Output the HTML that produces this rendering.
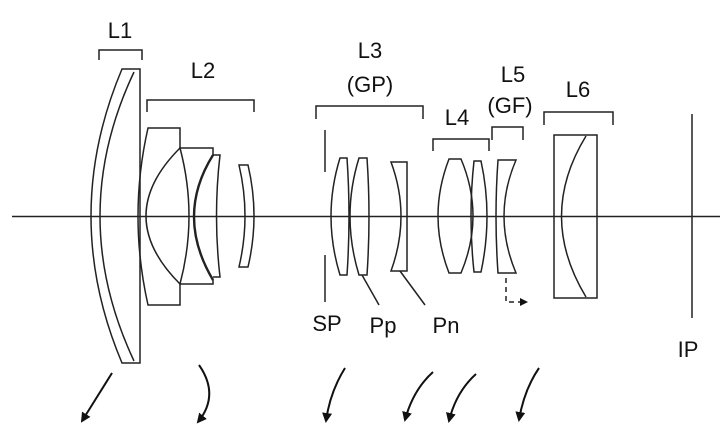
<!DOCTYPE html>
<html><head><meta charset="utf-8"><style>
html,body{margin:0;padding:0;background:#fff;width:728px;height:439px;overflow:hidden}
text{font-family:"Liberation Sans",sans-serif;font-size:22px;fill:#111}
</style></head><body>
<svg width="728" height="439" viewBox="0 0 728 439" xmlns="http://www.w3.org/2000/svg">
<defs><marker id="ah" markerWidth="10" markerHeight="10" refX="8" refY="5" orient="auto" markerUnits="userSpaceOnUse"><path d="M0,0 L10,5 L0,10 z" fill="#111"/></marker></defs>
<g fill="none" stroke="#222" stroke-width="1.5">
<line x1="12" y1="216.5" x2="720" y2="216.5"/>
<path d="M99,60 V50 H142 V60"/>
<path d="M147,112 V100 H254 V112"/>
<path d="M316,119 V106 H423 V119"/>
<path d="M433,151 V139 H489 V151"/>
<path d="M492,140 V127 H523 V140"/>
<path d="M544,125 V112 H613 V125"/>
<path d="M122,69 Q60,216 122,363 H140 V69 Z"/>
<path d="M134,72 Q66,216 134,361"/>
<path d="M148,128 H180 V148 Q112,216 180,284 V305 H148 Q128,216 148,128 Z"/>
<path d="M180,148 Q198,216 180,284 H213 V280 Q175,216 213,155 V148 Z"/>
<path stroke-width="2.4" d="M213,155 Q175,216 213,280"/>
<path d="M213,155 H220 Q213,216 220,277 H213"/>
<path d="M239,165 H248 Q260,216 248,267 H239 Q251,216 239,165 Z"/>
<line x1="325" y1="130" x2="325" y2="172"/>
<line x1="325" y1="255" x2="325" y2="302"/>
<path d="M340,158 H347 Q351,216 347,275 H340 Q322,216 340,158 Z"/>
<path d="M359,158 H367 Q371,216 367,275 H359 Q341,216 359,158 Z"/>
<path d="M391,162 H407 V271 H391 Q411,216 391,162 Z"/>
<line x1="362" y1="275" x2="379" y2="305"/>
<line x1="400" y1="271" x2="425" y2="305"/>
<path d="M449,159 H461 Q485,216 461,273 H449 Q427,216 449,159 Z"/>
<path d="M474,161 H481 Q493,216 481,272 H474 Q468,216 474,161 Z"/>
<path d="M498,160 H516 Q492,216 516,273 H498 Q494,216 498,160 Z"/>
<path stroke-dasharray="5,4" d="M506,278 V302 H520"/>
<path d="M520,298 L528,302 L520,306 Z" fill="#111" stroke="none"/>
<rect x="554" y="135" width="43" height="163"/>
<path d="M586,136 Q537,216 586,297"/>
<line x1="692" y1="114" x2="692" y2="318"/>
<g stroke-width="2" stroke="#111">
<path d="M112,373 L82,421" marker-end="url(#ah)"/>
<path d="M199,365 Q220,395 198,422" marker-end="url(#ah)"/>
<path d="M345,368 Q330,392 326,421" marker-end="url(#ah)"/>
<path d="M433,372 Q413,390 405,420" marker-end="url(#ah)"/>
<path d="M476,374 Q456,392 449,421" marker-end="url(#ah)"/>
<path d="M539,368 Q524,390 519,420" marker-end="url(#ah)"/>
</g>
</g>
<text x="120" y="38" text-anchor="middle">L1</text>
<text x="203" y="78" text-anchor="middle">L2</text>
<text x="370" y="58" text-anchor="middle">L3</text>
<text x="370" y="92" text-anchor="middle">(GP)</text>
<text x="457" y="125" text-anchor="middle">L4</text>
<text x="513" y="82" text-anchor="middle">L5</text>
<text x="510" y="113" text-anchor="middle">(GF)</text>
<text x="578" y="97" text-anchor="middle">L6</text>
<text x="327" y="331" text-anchor="middle">SP</text>
<text x="383" y="333" text-anchor="middle">Pp</text>
<text x="446" y="333" text-anchor="middle">Pn</text>
<text x="688" y="357" text-anchor="middle">IP</text>
</svg>
</body></html>
